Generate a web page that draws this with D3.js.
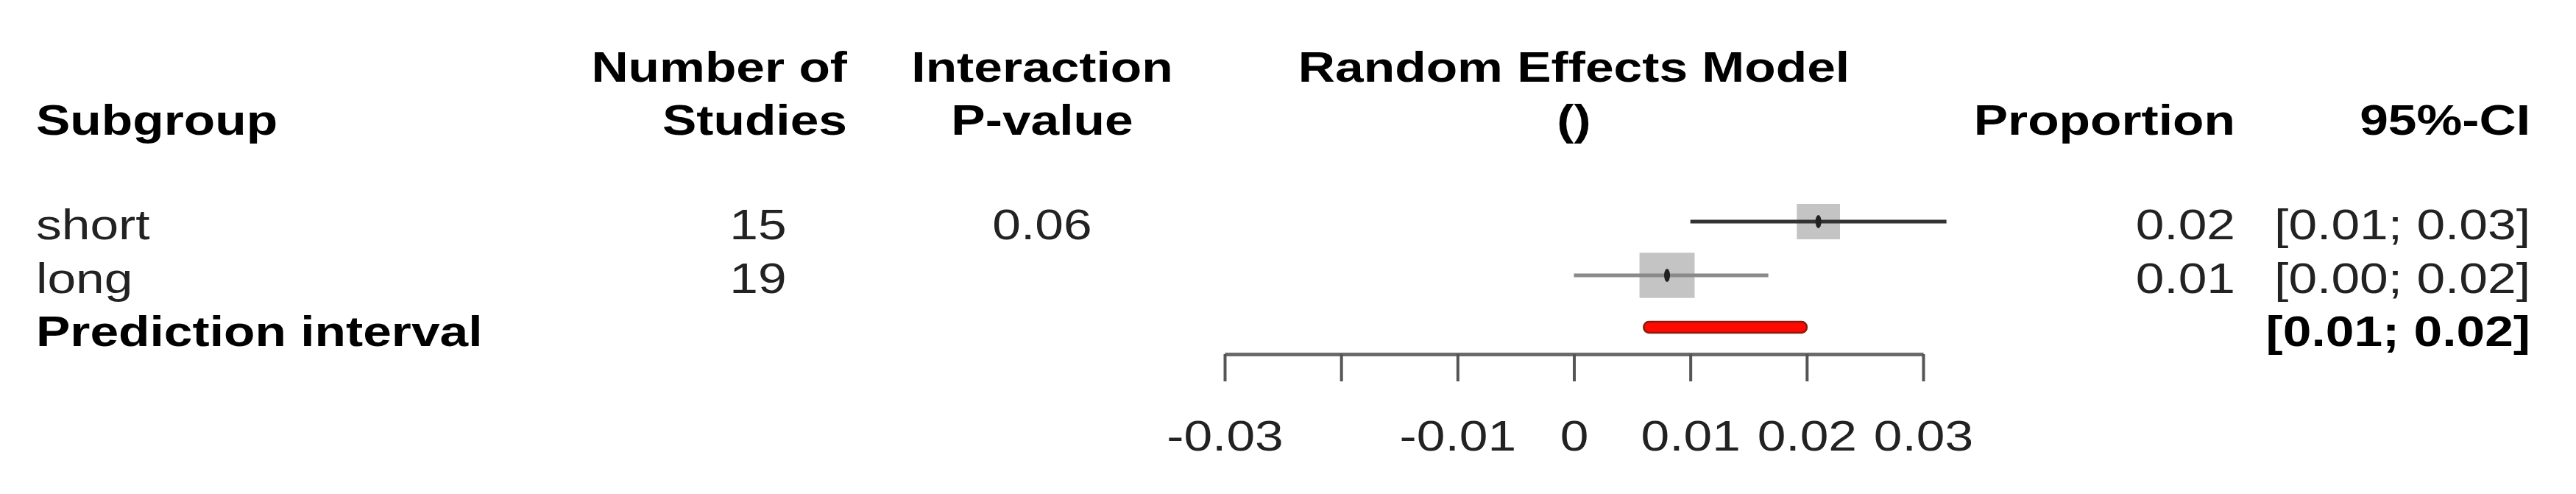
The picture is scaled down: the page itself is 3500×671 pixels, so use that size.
<!DOCTYPE html>
<html>
<head>
<meta charset="utf-8">
<script src="https://cdn.jsdelivr.net/npm/d3@7"></script>
<style>
  html, body { margin: 0; padding: 0; background: #ffffff; }
  svg { display: block; }
</style>
</head>
<body>
<svg id="chart" width="3500" height="671"></svg>
<script>
// ---------------- data ----------------
const subgroups = ["short", "long"];
const nStudies = ["15", "19"];
const pInteraction = ["0.06", ""];
const estimates = [0.021, 0.008];
const lowerCI = [0.010, 0.000];
const upperCI = [0.032, 0.0167];
const weights = [38, 62];
const proportionLabels = ["0.02", "0.01"];
const ciLabels = ["[0.01; 0.03]", "[0.00; 0.02]"];
const predictionInterval = [0.006, 0.020];
const predictionLabel = "[0.01; 0.02]";
const tickValues = [-0.03, -0.02, -0.01, 0, 0.01, 0.02, 0.03];
const tickLabels = ["-0.03", "", "-0.01", "0", "0.01", "0.02", "0.03"];
const headerRow1 = [
  { text: "Number of", col: "k" },
  { text: "Interaction", col: "p" },
  { text: "Random Effects Model", col: "plot" }
];
const headerRow2 = [
  { text: "Subgroup", col: "label" },
  { text: "Studies", col: "k" },
  { text: "P-value", col: "p" },
  { text: "()", col: "plot" },
  { text: "Proportion", col: "prop" },
  { text: "95%-CI", col: "ci" }
];

// ---------------- layout ----------------
const SX = 1.22;           // horizontal stretch of the original picture
const FS = 57;             // font size
const svg = d3.select("#chart");
const font = "'Liberation Sans', Arial, Helvetica, sans-serif";

const x = d3.scaleLinear().domain([-0.03, 0.03]).range([1664, 2613]);

const colX = { label: 49, k: 1151, kVal: 1030, p: 1416, plot: x(0), prop: 3037, ci: 3438 };
const colAnchor = { label: "start", k: "end", p: "middle", plot: "middle", prop: "end", ci: "end" };

const rowY = { h1: 111, h2: 183, short: 325, long: 398, pi: 470 };
const markOffset = 24;  // baseline -> centre of marks

function txt(xp, yp, s, anchor, bold, fill) {
  const g = svg.append("g").attr("transform", `translate(${xp},${yp})`);
  g.append("text")
    .attr("transform", `scale(${SX},1)`)
    .attr("text-anchor", anchor)
    .attr("font-family", font)
    .attr("font-size", FS)
    .attr("font-weight", bold ? "bold" : "normal")
    .attr("fill", fill || "#111")
    .text(s);
}

// headers
headerRow1.forEach(h => txt(colX[h.col], rowY.h1, h.text, colAnchor[h.col], true, "#000"));
headerRow2.forEach(h => txt(colX[h.col], rowY.h2, h.text, colAnchor[h.col], true, "#000"));

// subgroup rows
const rowKeys = ["short", "long"];
const size = d3.scaleSqrt().domain([0, 100]).range([0, 78]);
const lineColors = ["#333333", "#8a8a8a"];

subgroups.forEach((s, i) => {
  const yb = rowY[rowKeys[i]];
  const yc = yb - markOffset;
  txt(colX.label, yb, s, "start", false, "#222");
  txt(colX.kVal, yb, nStudies[i], "middle", false, "#222");
  if (pInteraction[i]) txt(colX.p, yb, pInteraction[i], "middle", false, "#222");
  txt(colX.prop, yb, proportionLabels[i], "end", false, "#222");
  txt(colX.ci, yb, ciLabels[i], "end", false, "#222");

  const h = size(weights[i]);
  const w = h * SX;
  svg.append("rect")
    .attr("x", x(estimates[i]) - w / 2)
    .attr("y", yc - h / 2)
    .attr("width", w)
    .attr("height", h)
    .attr("fill", "#c4c4c4");
  svg.append("line")
    .attr("x1", x(lowerCI[i])).attr("x2", x(upperCI[i]))
    .attr("y1", yc).attr("y2", yc)
    .attr("stroke", lineColors[i]).attr("stroke-width", 5);
  svg.append("ellipse")
    .attr("cx", x(estimates[i])).attr("cy", yc)
    .attr("rx", 4).attr("ry", 9)
    .attr("fill", "#222");
});

// prediction interval
txt(colX.label, rowY.pi, "Prediction interval", "start", true, "#000");
txt(colX.ci, rowY.pi, predictionLabel, "end", true, "#000");
svg.append("rect")
  .attr("x", x(predictionInterval[0]))
  .attr("y", rowY.pi - 26 - 7)
  .attr("width", x(predictionInterval[1]) - x(predictionInterval[0]))
  .attr("height", 15)
  .attr("rx", 7).attr("ry", 7)
  .attr("fill", "#ff0a00")
  .attr("stroke", "#8a1a10")
  .attr("stroke-width", 2.5);

// axis
const axisY = 481;
const axis = d3.axisBottom(x)
  .tickValues(tickValues)
  .tickFormat((d, i) => tickLabels[i])
  .tickSize(37)
  .tickSizeOuter(0);
const ag = svg.append("g").attr("transform", `translate(0,${axisY})`).call(axis);
ag.select(".domain").attr("stroke", "#6a6a6a").attr("stroke-width", 5);
ag.selectAll(".tick line").attr("stroke", "#555").attr("stroke-width", 4);
ag.selectAll(".tick text")
  .attr("y", 131).attr("dy", 0)
  .attr("transform", `scale(${SX},1)`)
  .attr("font-family", font)
  .attr("font-size", FS)
  .attr("fill", "#222");
</script>
</body>
</html>
